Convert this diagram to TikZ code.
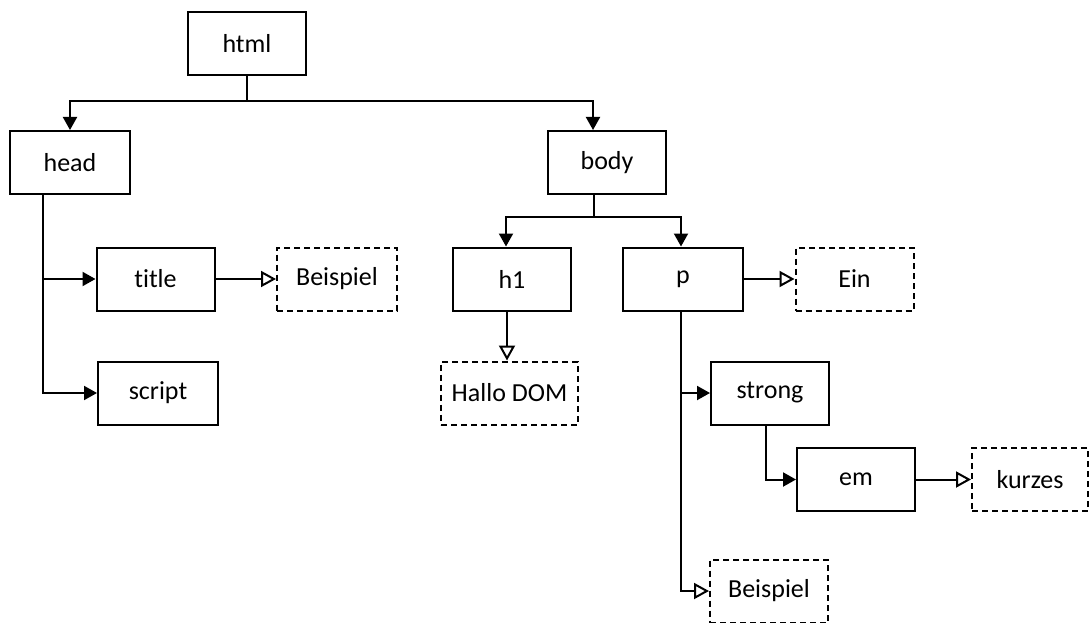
\documentclass[tikz,border=0pt]{standalone}
\usepackage{fontspec}
\setmainfont[Ligatures=NoCommon]{Carlito}
\usetikzlibrary{arrows.meta}

\begin{document}
\begin{tikzpicture}[x=1pt,y=-1pt,line width=2pt,
  elem/.style={draw,minimum width=118pt,minimum height=63pt,font=\fontsize{26}{30}\selectfont},
  txt/.style={elem,dash pattern=on 6pt off 4pt},
  kid/.style={-{Triangle[length=13pt,width=14pt]}},
  tnode/.style={-{Triangle[open,length=15pt,width=16pt]}}]
\useasboundingbox (0,0) rectangle (1089,623);
% element nodes
\node[elem] (html) at (247,43.5) {html};
\node[elem,minimum width=120pt] (head) at (70,162.5) {head};
\node[elem] (body) at (607,162.5) {body};
\node[elem] (title) at (155.5,279) {title};
\node[elem,minimum width=120pt] (script) at (158,393) {script};
\node[elem] (h1) at (512,279) {h1};
\node[elem,minimum width=120pt] (p) at (683,279) {p};
\node[elem] (strong) at (770,393) {strong};
\node[elem] (em) at (856,479.5) {em};
% text nodes
\node[txt,minimum width=120pt] (beisp1) at (337,279) {Beispiel};
\node[txt,minimum width=137pt] (hallo) at (509.5,393) {Hallo DOM};
\node[txt] (ein) at (854.5,279) {Ein};
\node[txt,minimum width=116pt] (kurz) at (1030,479.5) {kurzes};
\node[txt] (beisp2) at (769,591) {Beispiel};
% html
\coordinate (hjoin) at (247,101);
\draw (html) -- (hjoin);
\draw[kid] (hjoin) -| (head);
\draw[kid] (hjoin) -| ([xshift=-14]body.north);
% head
\draw[kid] ([xshift=-27]head.south) |- (title);
\draw[kid] ([xshift=-27]head.south) |- (script);
\draw[tnode] (title) -- (beisp1);
% body
\coordinate (bjoin) at (594,217);
\draw (body.south -| bjoin) -- (bjoin);
\draw[kid] (bjoin) -| ([xshift=-6]h1.north);
\draw[kid] (bjoin) -| ([xshift=-2]p.north);
\draw[tnode] ([xshift=-5]h1.south) -- ([xshift=-5]h1.south |- hallo.north);
% p
\draw[tnode] (p) -- (ein);
\draw[kid] ([xshift=-2]p.south) |- (strong);
\draw[tnode] ([xshift=-2]p.south) |- (beisp2);
\draw[kid] ([xshift=-4]strong.south) |- (em);
\draw[tnode] (em) -- (kurz);
\end{tikzpicture}
\end{document}
